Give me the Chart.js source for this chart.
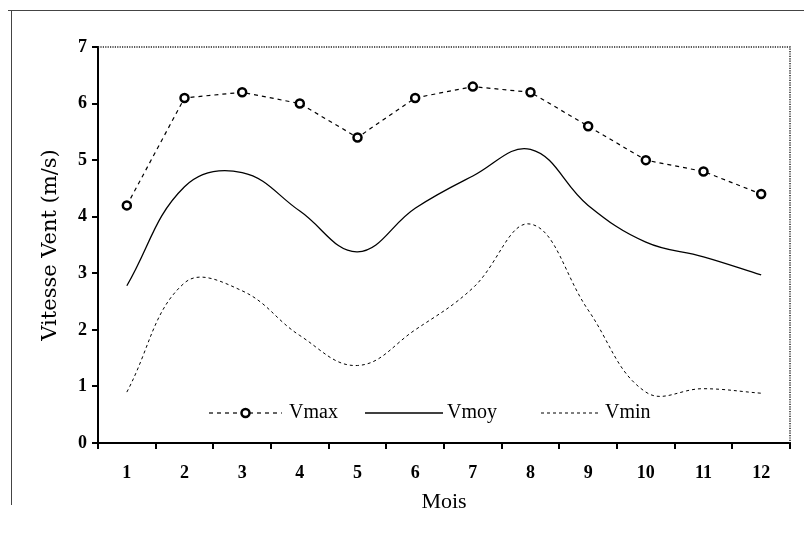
<!DOCTYPE html>
<html>
<head>
<meta charset="utf-8">
<script src="https://cdn.jsdelivr.net/npm/chart.js@4/dist/chart.umd.min.js"></script>
<style>
html,body{margin:0;padding:0;background:#fff;}
#wrap{width:804px;height:533px;}
</style>
</head>
<body>
<div id="wrap"><canvas id="c" width="804" height="533"></canvas></div>
<script>
const months = ['1','2','3','4','5','6','7','8','9','10','11','12'];
const vmax = [4.2, 6.1, 6.2, 6.0, 5.4, 6.1, 6.3, 6.2, 5.6, 5.0, 4.8, 4.4];
const vmoy = [2.78, 4.53, 4.78, 4.1, 3.38, 4.15, 4.72, 5.19, 4.2, 3.55, 3.29, 2.97];
const vmin = [0.9, 2.83, 2.69, 1.9, 1.37, 2.0, 2.74, 3.87, 2.35, 0.9, 0.96, 0.88];
const yTicks = [0,1,2,3,4,5,6,7];
const seriesNames = ['Vmax','Vmoy','Vmin'];

const SERIF = '"Liberation Serif", "DejaVu Serif", serif';
const WIDE_SERIF = '"DejaVu Serif", "Liberation Serif", serif';

const framePlugin = {
  id: 'frame',
  beforeDraw(chart){
    const ctx = chart.ctx;
    ctx.save();
    ctx.fillStyle = '#fff';
    ctx.fillRect(0,0,chart.width,chart.height);
    ctx.strokeStyle = '#444';
    ctx.lineWidth = 1;
    ctx.beginPath();
    ctx.moveTo(8,10.5); ctx.lineTo(804,10.5);
    ctx.moveTo(11.5,10); ctx.lineTo(11.5,505);
    ctx.stroke();
    ctx.restore();
  },
  afterDatasetsDraw(chart){
    const ctx = chart.ctx, a = chart.chartArea;
    ctx.save();
    ctx.strokeStyle = '#222';
    ctx.lineWidth = 1.5;
    ctx.setLineDash([1.2,1.2]);
    ctx.beginPath();
    ctx.moveTo(a.left, a.top); ctx.lineTo(a.right, a.top); ctx.lineTo(a.right, a.bottom);
    ctx.stroke();
    ctx.restore();
  }
};

const legendPlugin = {
  id: 'customLegend',
  afterDraw(chart){
    const ctx = chart.ctx;
    const y = 413;
    const items = [
      {x0:209, x1:282, tx:289},
      {x0:365, x1:443, tx:447},
      {x0:541, x1:599, tx:605}
    ];
    ctx.save();
    chart.data.datasets.forEach((ds,i)=>{
      const it = items[i];
      ctx.strokeStyle = '#000';
      ctx.lineWidth = ds.borderWidth;
      ctx.setLineDash(ds.borderDash || []);
      ctx.beginPath();
      ctx.moveTo(it.x0, y); ctx.lineTo(it.x1, y);
      ctx.stroke();
      ctx.setLineDash([]);
      if (ds.pointRadius > 0) {
        ctx.beginPath();
        ctx.arc((it.x0+it.x1)/2, y, ds.pointRadius, 0, Math.PI*2);
        ctx.fillStyle = '#fff';
        ctx.fill();
        ctx.lineWidth = ds.pointBorderWidth;
        ctx.stroke();
      }
      ctx.fillStyle = '#000';
      ctx.font = '20px ' + SERIF;
      ctx.textBaseline = 'middle';
      ctx.textAlign = 'left';
      ctx.fillText(ds.label, it.tx, y);
    });
    ctx.restore();
  }
};

new Chart(document.getElementById('c'), {
  type: 'line',
  data: {
    labels: months,
    datasets: [
      {label: seriesNames[0], data: vmax, borderColor:'#000', borderWidth:1.2, borderDash:[4,4], tension:0,
       pointRadius:4, pointBorderWidth:2.5, pointBackgroundColor:'#fff', pointBorderColor:'#000', pointStyle:'circle'},
      {label: seriesNames[1], data: vmoy, borderColor:'#000', borderWidth:1.3, tension:0.4, pointRadius:0},
      {label: seriesNames[2], data: vmin, borderColor:'#000', borderWidth:1, borderDash:[3,3], tension:0.4, pointRadius:0}
    ]
  },
  options: {
    responsive: false,
    animation: false,
    layout: {padding: {left: 36, right: 14, top: 47, bottom: 18}},
    plugins: {legend: {display:false}, tooltip: {enabled:false}},
    scales: {
      x: {
        offset: true,
        grid: {offset: true, drawOnChartArea: false, drawTicks: true, tickLength: 6, color:'#000', lineWidth: 2},
        border: {color:'#000', width: 2},
        ticks: {color:'#000', font:{family:SERIF, size:18, weight:'bold'}, padding: 14, maxRotation:0},
        title: {display:true, text:'Mois', color:'#000', font:{family:SERIF, size:22}, padding:{top:0,bottom:0}},
        afterFit(s){ s.height = 533 - 443 - 18; }
      },
      y: {
        min: 0, max: 7,
        afterBuildTicks(s){ s.ticks = yTicks.map(v=>({value:v})); },
        grid: {drawOnChartArea: false, drawTicks: true, tickLength: 6, color:'#000', lineWidth: 2},
        border: {color:'#000', width: 2},
        ticks: {color:'#000', font:{family:SERIF, size:18, weight:'bold'}, padding: 5},
        title: {display:true, text:'Vitesse Vent (m/s)', color:'#000', font:{family:WIDE_SERIF, size:21}, padding:{top:2,bottom:0}},
        afterFit(s){ s.width = 98 - 36; }
      }
    }
  },
  plugins: [framePlugin, legendPlugin]
});
</script>
</body>
</html>
